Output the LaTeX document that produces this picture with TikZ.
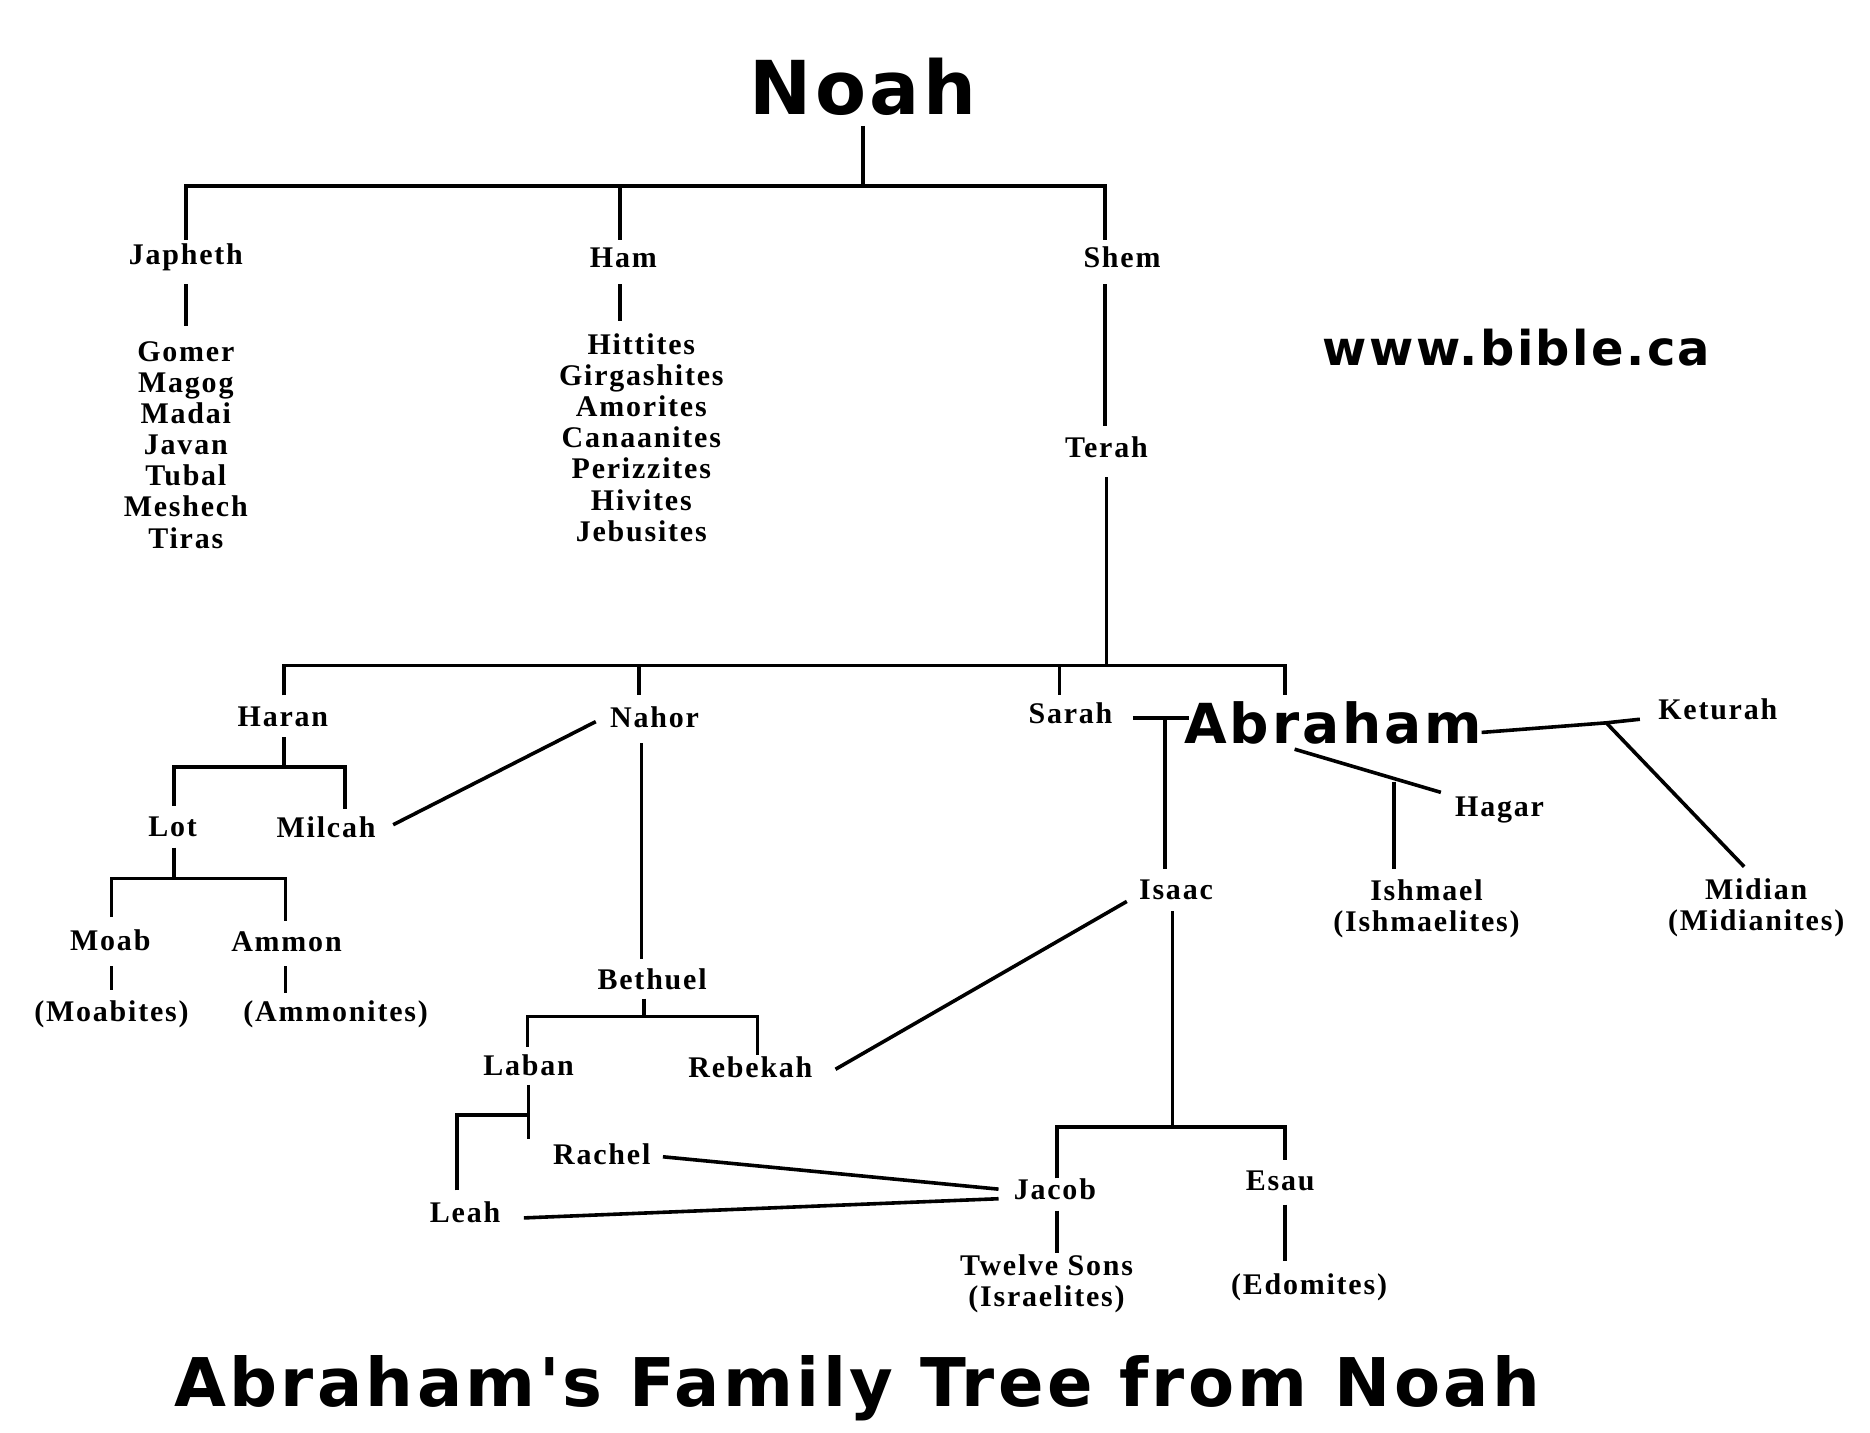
\documentclass[tikz,border=0pt]{standalone}
\usepackage{fontspec}
\setmainfont{Liberation Serif}[LetterSpace=6]
\newfontfamily\bigsans{DejaVu Sans}[LetterSpace=5]
\begin{document}
\begin{tikzpicture}[x=1pt,y=-1pt,
  nm/.style={font=\fontsize{25}{26}\selectfont\bfseries,inner sep=0pt,align=center},
  big/.style={font=\bigsans\bfseries\fontsize{46}{50}\selectfont,inner sep=0pt},
  ln/.style={line width=3pt}]
\useasboundingbox[fill=white] (0,0) rectangle (1560,1195);
\node[big,font=\bigsans\bfseries\fontsize{62}{64}\selectfont] (noah) at (720,72) {Noah};
\node[nm] (japh) at (155,215) {Japheth};
\node[nm] (ham) at (520,215) {Ham};
\node[nm] (shem) at (936,215) {Shem};
\node[nm,font=\fontsize{25}{26}\selectfont\bfseries] (jl) at (155,371) {Gomer\\Magog\\Madai\\Javan\\Tubal\\Meshech\\Tiras};
\node[nm] (hl) at (535,365) {Hittites\\Girgashites\\Amorites\\Canaanites\\Perizzites\\Hivites\\Jebusites};
\node[font=\bigsans\bfseries\fontsize{40}{44}\selectfont] (www) at (1265,290) {www.bible.ca};
\node[nm] (terah) at (923,373) {Terah};
\node[nm] (haran) at (236,598) {Haran};
\node[nm] (nahor) at (546,598) {Nahor};
\node[nm] (sarah) at (893,595) {Sarah};
\node[big] (abr) at (1112,603) {Abraham};
\node[nm] (ket) at (1433,592) {Keturah};
\node[nm] (lot) at (144,690) {Lot};
\node[nm] (milcah) at (272,690) {Milcah};
\node[nm] (moab) at (92,784) {Moab};
\node[nm] (ammon) at (239,786) {Ammon};
\node[nm] (moabs) at (93,846) {(Moabites)};
\node[nm] (ammons) at (280,846) {(Ammonites)};
\node[nm] (hagar) at (1251,676) {Hagar};
\node[nm] (isaac) at (981,742) {Isaac};
\node[nm] (ish) at (1190,758) {Ishmael\\(Ishmaelites)};
\node[nm] (mid) at (1465,757) {Midian\\(Midianites)};
\node[nm] (beth) at (544,817) {Bethuel};
\node[nm] (laban) at (441,889) {Laban};
\node[nm] (reb) at (626,890) {Rebekah};
\node[nm] (rachel) at (502,963) {Rachel};
\node[nm] (leah) at (388,1011) {Leah};
\node[nm] (jacob) at (880,992) {Jacob};
\node[nm] (esau) at (1068,985) {Esau};
\node[nm] (twelve) at (873,1071) {Twelve Sons\\(Israelites)};
\node[nm] (edom) at (1092,1074) {(Edomites)};
\node[font=\bigsans\bfseries\fontsize{56}{60}\selectfont] (title) at (715,1158) {Abraham's Family Tree from Noah};
% lines
\draw[ln] (720,105)--(720,155);
\draw[ln] (155,200)--(155,155)--(922,155)--(922,200);
\draw[ln] (517,155)--(517,200);
\draw[ln] (155,237)--(155,272);
\draw[ln] (517,237)--(517,268);
\draw[ln] (922,237)--(922,355);
\draw[ln] (923,398)--(923,555);
\draw[ln] (237,580)--(237,555)--(1072,555)--(1072,580);
\draw[ln] (533,555)--(533,580);
\draw[ln] (884,555)--(884,580);
\draw[ln] (237,615)--(237,640);
\draw[ln] (145,672)--(145,640)--(288,640)--(288,675);
\draw[ln] (328,688)--(497,602);
\draw[ln] (145,707)--(145,733);
\draw[ln] (93,765)--(93,733)--(238,733)--(238,768);
\draw[ln] (93,806)--(93,826);
\draw[ln] (238,806)--(238,828);
\draw[ln] (535,620)--(535,800);
\draw[ln] (537,833)--(537,848);
\draw[ln] (440,873)--(440,848)--(632,848)--(632,880);
\draw[ln] (441,905)--(441,930);
\draw[ln] (381,993)--(381,930)--(441,930)--(441,950);
\draw[ln] (553,965)--(833,992);
\draw[ln] (437,1016)--(833,1000);
\draw[ln] (945,599)--(992,599);
\draw[ln] (972,599)--(972,725);
\draw[ln] (940,752)--(697,892);
\draw[ln] (978,760)--(978,940);
\draw[ln] (882,983)--(882,940)--(1072,940)--(1072,968);
\draw[ln] (882,1010)--(882,1045);
\draw[ln] (1072,1005)--(1072,1052);
\draw[ln] (1236,611)--(1340,603)--(1368,600);
\draw[ln] (1340,603)--(1455,723);
\draw[ln] (1080,625)--(1202,661);
\draw[ln] (1163,652)--(1163,725);
\end{tikzpicture}
\end{document}
